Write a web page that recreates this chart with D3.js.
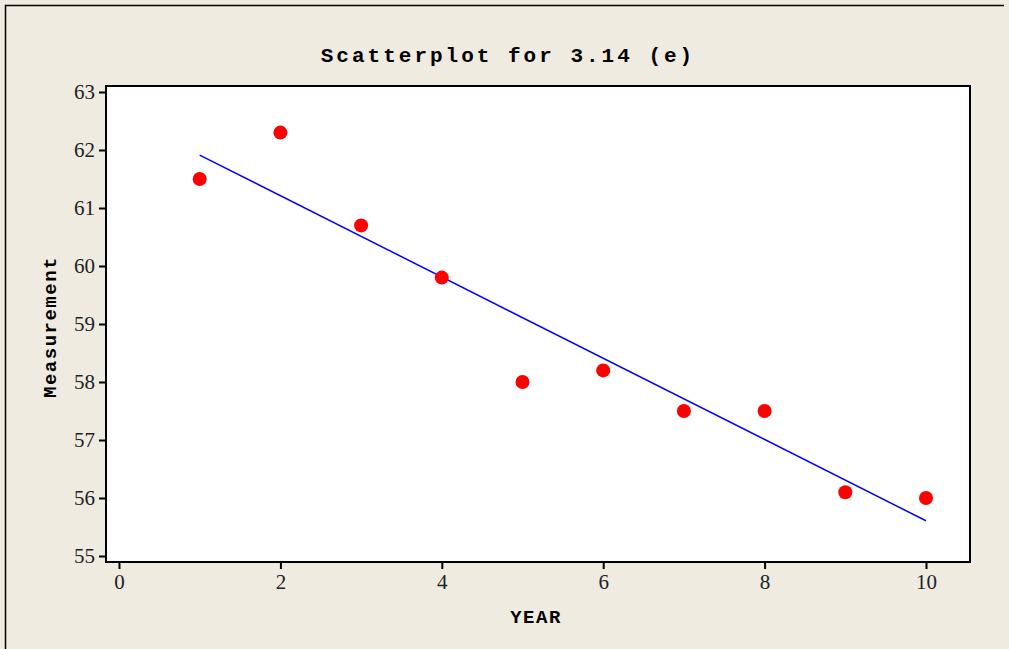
<!DOCTYPE html>
<html>
<head>
<meta charset="utf-8">
<script src="https://cdn.jsdelivr.net/npm/d3@7"></script>
<style>
  body { margin: 0; background: #efebe1; }
  svg { display: block; }
</style>
</head>
<body>
<svg id="chart" width="1009" height="649"></svg>
<script>
var years = [1, 2, 3, 4, 5, 6, 7, 8, 9, 10];
var measurements = [61.5, 62.3, 60.7, 59.8, 58.0, 58.2, 57.5, 57.5, 56.1, 56.0];
var xTicks = [0, 2, 4, 6, 8, 10];
var yTicks = [55, 56, 57, 58, 59, 60, 61, 62, 63];

var svg = d3.select("#chart"),
    width = +svg.attr("width"),
    height = +svg.attr("height");

var frame = { left: 106, top: 86, right: 970, bottom: 562 };

// outer panel border (left + top only visible)
svg.append("rect").attr("width", width).attr("height", height).attr("fill", "#efebe1");
svg.append("path")
    .attr("d", "M5.5," + height + "V5.5H1004")
    .attr("fill", "none").attr("stroke", "#000").attr("stroke-width", 1.5);

var x = d3.scaleLinear().domain([0, 10]).range([119, 926]);
var y = d3.scaleLinear().domain([55, 63]).range([556, 92]);

svg.append("rect")
    .attr("x", frame.left).attr("y", frame.top)
    .attr("width", frame.right - frame.left).attr("height", frame.bottom - frame.top)
    .attr("fill", "#fff").attr("stroke", "#000").attr("stroke-width", 2);

var tickFont = "'Liberation Serif', 'DejaVu Serif', serif";

var xAxis = svg.append("g")
    .attr("transform", "translate(0," + (frame.bottom + 1) + ")")
    .call(d3.axisBottom(x).tickValues(xTicks).tickSize(6).tickPadding(5).tickFormat(d3.format("d")));
var yAxis = svg.append("g")
    .attr("transform", "translate(" + (frame.left - 1) + ",0)")
    .call(d3.axisLeft(y).tickValues(yTicks).tickSize(6).tickPadding(4).tickFormat(d3.format("d")));

[xAxis, yAxis].forEach(function(a) {
    a.select(".domain").remove();
    a.selectAll(".tick line").attr("stroke", "#000").attr("stroke-width", 2);
    a.selectAll(".tick text")
        .attr("fill", "#222")
        .style("font-family", tickFont)
        .style("font-size", "21px");
});

// least-squares fit line
var mx = d3.mean(years), my = d3.mean(measurements);
var sxy = d3.sum(years, function(d, i) { return (d - mx) * (measurements[i] - my); });
var sxx = d3.sum(years, function(d) { return (d - mx) * (d - mx); });
var slope = sxy / sxx, intercept = my - slope * mx;
var x0 = d3.min(years), x1 = d3.max(years);

svg.append("line")
    .attr("x1", x(x0)).attr("y1", y(intercept + slope * x0))
    .attr("x2", x(x1)).attr("y2", y(intercept + slope * x1))
    .attr("stroke", "#0000ff").attr("stroke-width", 1.5);

svg.selectAll(".dot")
    .data(years)
    .enter().append("circle")
    .attr("class", "dot")
    .attr("cx", function(d) { return x(d); })
    .attr("cy", function(d, i) { return y(measurements[i]); })
    .attr("r", 7)
    .attr("fill", "#ff0000");

var monoFont = "'Liberation Mono', 'DejaVu Sans Mono', monospace";

svg.append("text")
    .attr("x", 508).attr("y", 62)
    .attr("text-anchor", "middle")
    .style("font-family", monoFont)
    .style("font-weight", "bold")
    .style("font-size", "21px")
    .style("letter-spacing", "3px")
    .attr("fill", "#000")
    .text("Scatterplot for 3.14 (e)");

svg.append("text")
    .attr("x", 536).attr("y", 623)
    .attr("text-anchor", "middle")
    .style("font-family", monoFont)
    .style("font-weight", "bold")
    .style("font-size", "19px")
    .style("letter-spacing", "1.5px")
    .text("YEAR");

svg.append("text")
    .attr("transform", "translate(56,327) rotate(-90)")
    .attr("text-anchor", "middle")
    .style("font-family", monoFont)
    .style("font-weight", "bold")
    .style("font-size", "19px")
    .style("letter-spacing", "1.5px")
    .text("Measurement");
</script>
</body>
</html>
